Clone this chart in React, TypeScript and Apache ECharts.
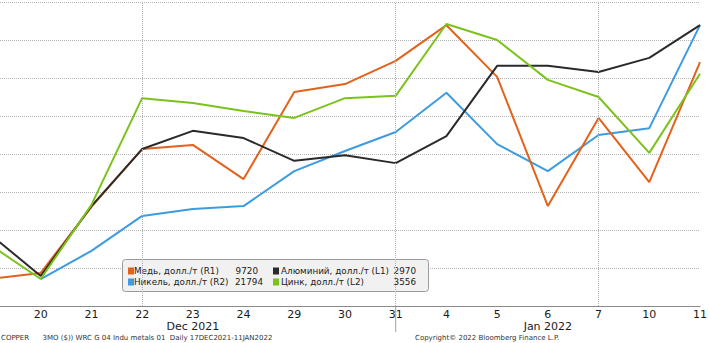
import React, { useEffect, useRef } from "react";
import * as echarts from "echarts";

const categories = ["17", "20", "21", "22", "23", "24", "29", "30", "31", "4", "5", "6", "7", "10", "11"];
const copper = [0.71, 0.87, 2.61, 4.13, 4.24, 3.34, 5.63, 5.84, 6.45, 7.39, 6.03, 2.63, 4.95, 3.26, 6.42];
const nickel = [null, 0.71, 1.45, 2.37, 2.55, 2.63, 3.55, 4.08, 4.58, 5.61, 4.26, 3.55, 4.5, 4.68, 7.39];
const aluminium = [1.89, 0.79, 2.63, 4.13, 4.61, 4.42, 3.82, 3.97, 3.76, 4.47, 6.32, 6.32, 6.16, 6.53, 7.39];
const zinc = [1.61, 0.71, 2.66, 5.47, 5.34, 5.13, 4.95, 5.47, 5.53, 7.42, 7.0, 5.95, 5.5, 4.03, 6.11];
const weekLines = ["22", "31", "7"];
const monthLabels = [
  { at: "23", text: "Dec 2021" },
  { at: "6", text: "Jan 2022" },
];
const monthBoundary = "31";
const legendNames = ["Медь, долл./т (R1)", "Никель, долл./т (R2)", "Алюминий, долл./т (L1)", "Цинк, долл./т (L2)"];
const legendValues = ["9720", "21794", "2970", "3556"];
const colors = { copper: "#e2621b", nickel: "#3d9be0", aluminium: "#2a2a2a", zinc: "#7cc21c" };
const footerLeft = "COPPER      3MO ($)) WRC G 04 Indu metals 01  Daily 17DEC2021-11JAN2022";
const footerRight = "Copyright© 2022 Bloomberg Finance L.P.";

const FONT = "DejaVu Sans";
const SHIFT = 30; // chart canvas extends left of the visible frame

export default function App() {
  const ref = useRef<HTMLDivElement>(null);
  useEffect(() => {
    document.body.style.margin = "0";
    const chart = echarts.init(ref.current!, null, { renderer: "svg" });
    const line = (name: string, data: any[], color: string, extra: any = {}) => ({
      name,
      type: "line",
      data,
      symbol: "none",
      connectNulls: false,
      lineStyle: { color, width: 2 },
      itemStyle: { color },
      ...extra,
    });
    chart.setOption({
      animation: false,
      grid: { left: SHIFT - 10, right: 10, top: 2, bottom: 37 },
      xAxis: {
        type: "category",
        data: categories,
        boundaryGap: false,
        axisLine: { show: true, lineStyle: { color: "#8a8a8a", width: 1 } },
        axisTick: { show: false },
        axisLabel: {
          interval: (index: number) => index !== 0,
          color: "#1a1a1a",
          fontFamily: FONT,
          fontSize: 11,
          margin: 3,
        },
        splitLine: { show: false },
      },
      yAxis: {
        type: "value",
        min: 0,
        max: 8,
        interval: 1,
        axisLabel: { show: false },
        axisLine: { show: false },
        axisTick: { show: false },
        splitLine: { show: true, lineStyle: { color: "#b5b5b5", type: "dotted", width: 1 } },
      },
      series: [
        line("Никель", nickel, colors.nickel, {
          markLine: {
            silent: true,
            symbol: "none",
            label: { show: false },
            lineStyle: { color: "#b0b0b0", type: "dotted", width: 1 },
            data: weekLines.map((c) => ({ xAxis: c })),
          },
        }),
        line("Медь", copper, colors.copper),
        line("Алюминий", aluminium, colors.aluminium),
        line("Цинк", zinc, colors.zinc),
      ],
    });

    const bottomY = chart.convertToPixel({ yAxisIndex: 0 }, 0) as number;
    const bx = chart.convertToPixel({ xAxisIndex: 0 }, monthBoundary) as number;
    const graphics: any[] = [
      { type: "line", shape: { x1: bx, y1: bottomY, x2: bx, y2: bottomY + 26 }, style: { stroke: "#a0a0a0", lineWidth: 1 } },
    ];
    monthLabels.forEach((m) => {
      const x = chart.convertToPixel({ xAxisIndex: 0 }, m.at) as number;
      graphics.push({
        type: "text",
        x,
        y: bottomY + 20,
        style: { text: m.text, fill: "#1a1a1a", font: `11px "${FONT}"`, align: "center", verticalAlign: "middle" },
      });
    });
    graphics.push({
      type: "text",
      x: SHIFT + 1,
      y: 338,
      style: { text: footerLeft, fill: "#333", font: `7px "${FONT}"`, verticalAlign: "middle" },
    });
    graphics.push({
      type: "text",
      x: SHIFT + 415,
      y: 338,
      style: { text: footerRight, fill: "#333", font: `7px "${FONT}"`, verticalAlign: "middle" },
    });
    // legend box
    graphics.push({
      type: "rect",
      shape: { x: SHIFT + 122.5, y: 259.5, width: 306, height: 32, r: 3 },
      style: { fill: "#f1f1f1", stroke: "#9a9a9a", lineWidth: 1 },
    });
    const legendColors = [colors.copper, colors.nickel, colors.aluminium, colors.zinc];
    const sqX = [128, 128, 273, 273];
    const txX = [134, 134, 281, 281];
    const valX = [258, 263, 416, 416];
    const rows = [271, 282];
    legendNames.forEach((n, i) => {
      const ry = rows[i % 2];
      graphics.push({
        type: "rect",
        shape: { x: SHIFT + sqX[i], y: ry - 3.5, width: 6, height: 7 },
        style: { fill: legendColors[i] },
      });
      graphics.push({
        type: "text",
        x: SHIFT + txX[i],
        y: ry,
        style: { text: n, fill: "#222", font: `8.8px "${FONT}"`, verticalAlign: "middle" },
      });
      graphics.push({
        type: "text",
        x: SHIFT + valX[i],
        y: ry,
        style: { text: legendValues[i], fill: "#222", font: `8.8px "${FONT}"`, align: "right", verticalAlign: "middle" },
      });
    });
    chart.setOption({ graphic: graphics });
    return () => chart.dispose();
  }, []);
  return (
    <div style={{ position: "relative", width: 710, height: 343, overflow: "hidden" }}>
      <div ref={ref} style={{ position: "absolute", left: -SHIFT, top: 0, width: 710 + SHIFT, height: 343 }} />
    </div>
  );
}
